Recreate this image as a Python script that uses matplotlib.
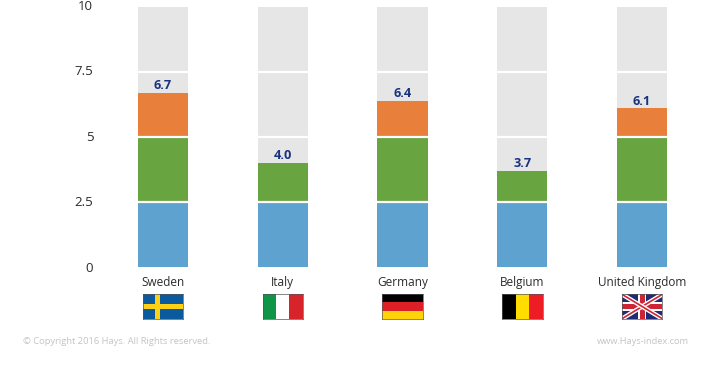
import matplotlib
matplotlib.use("Agg")
import matplotlib.pyplot as plt
from matplotlib.patches import Rectangle
from matplotlib.transforms import ScaledTranslation

plt.rcParams['font.family'] = ['Open Sans', 'DejaVu Sans']

countries = ["Sweden", "Italy", "Germany", "Belgium", "United Kingdom"]
scores = [6.7, 4.0, 6.4, 3.7, 6.1]
score_labels = ["6.7", "4.0", "6.4", "3.7", "6.1"]
blue_part = [2.5, 2.5, 2.5, 2.5, 2.5]
green_part = [2.5, 1.5, 2.5, 1.2, 2.5]
orange_part = [1.7, 0.0, 1.4, 0.0, 1.1]
y_ticks = [0, 2.5, 5, 7.5, 10]
y_tick_labels = ["0", "2.5", "5", "7.5", "10"]
copyright_text = "© Copyright 2016 Hays. All Rights reserved."
site_text = "www.Hays-index.com"

W, H = 702, 370
fig = plt.figure(figsize=(W / 100, H / 100), dpi=100, facecolor="white")


def px_axes(x0, y0, x1, y1):
    return fig.add_axes([x0 / W, 1 - y1 / H, (x1 - x0) / W, (y1 - y0) / H])


ax = px_axes(103, 7, 702, 267)
x = list(range(len(countries)))
bw = 0.418
ax.bar(x, [10] * 5, width=bw, color="#e6e6e6", zorder=1)
ax.bar(x, blue_part, width=bw, color="#5ea3cf", zorder=2)
ax.bar(x, green_part, width=bw, bottom=blue_part, color="#68a440", zorder=2)
bottoms = [a + b for a, b in zip(blue_part, green_part)]
ax.bar(x, orange_part, width=bw, bottom=bottoms, color="#e87f3a", zorder=2)
for t in y_ticks[1:-1]:
    ax.axhline(t, color="white", lw=1.6, zorder=3)
ax.set_xlim(-0.5, 4.5)
ax.set_ylim(0, 10)
ax.set_xticks(x, countries)
ax.set_yticks(y_ticks, y_tick_labels)
ax.tick_params(axis="x", length=0, pad=6.5, labelsize=8.5, labelcolor="#2b2b2b")
ax.tick_params(axis="y", length=0, pad=7, labelsize=9.5, labelcolor="#2b2b2b")
for s in ax.spines.values():
    s.set_visible(False)
# the reference's axis labels sit on a slightly taller scale than its bars
for t, tl in zip(y_ticks, ax.get_yticklabels()):
    tl.set_transform(tl.get_transform()
                     + ScaledTranslation(0, t * 0.17 / 72, fig.dpi_scale_trans))
for xi, v, lab in zip(x, scores, score_labels):
    ax.annotate(lab, (xi, v), xytext=(0, 0.6), textcoords="offset points",
                ha="center", va="bottom", fontsize=9.2, fontweight="bold",
                color="#17327f", zorder=4)


def flag_axes(x0):
    a = px_axes(x0, 294.3, x0 + 40.3, 318.7)
    a.set_xlim(0, 60)
    a.set_ylim(0, 36)
    a.set_xticks([])
    a.set_yticks([])
    for s in a.spines.values():
        s.set_linewidth(0.5)
        s.set_color("#555555")
    return a


def rect(a, x, y, w, h, c):
    a.add_patch(Rectangle((x, y), w, h, facecolor=c, edgecolor="none"))


# Sweden
a = flag_axes(143)
rect(a, 0, 0, 60, 36, "#0b5a9e")
rect(a, 18, 0, 8, 36, "#fcd116")
rect(a, 0, 14, 60, 8, "#fcd116")
# Italy
a = flag_axes(262.5)
rect(a, 0, 0, 20, 36, "#0f9448")
rect(a, 20, 0, 20, 36, "#ffffff")
rect(a, 40, 0, 20, 36, "#d7242b")
# Germany
a = flag_axes(382.5)
rect(a, 0, 24, 60, 12, "#000000")
rect(a, 0, 12, 60, 12, "#dd1f26")
rect(a, 0, 0, 60, 12, "#ffd30a")
# Belgium
a = flag_axes(502.3)
rect(a, 0, 0, 20, 36, "#000000")
rect(a, 20, 0, 20, 36, "#ffdd00")
rect(a, 40, 0, 20, 36, "#ee1c25")
# United Kingdom
a = flag_axes(622)
rect(a, 0, 0, 60, 36, "#1c2d75")
for p1, p2 in [((0, 0), (60, 36)), ((0, 36), (60, 0))]:
    a.plot(*zip(p1, p2), color="white", lw=3.2, solid_capstyle="butt")
    a.plot(*zip(p1, p2), color="#cf2433", lw=1.2, solid_capstyle="butt")
rect(a, 24, 0, 12, 36, "white")
rect(a, 0, 12, 60, 12, "white")
rect(a, 26.5, 0, 7, 36, "#cf2433")
rect(a, 0, 14.5, 60, 7, "#cf2433")

fig.text(23 / W, 1 - 341.5 / H, copyright_text, fontsize=6.75, color="#c4c4c4",
         ha="left", va="center")
fig.text(689 / W, 1 - 341.5 / H, site_text, fontsize=6.7, color="#c4c4c4",
         ha="right", va="center")

fig.savefig("out.png", dpi=100, facecolor="white")
